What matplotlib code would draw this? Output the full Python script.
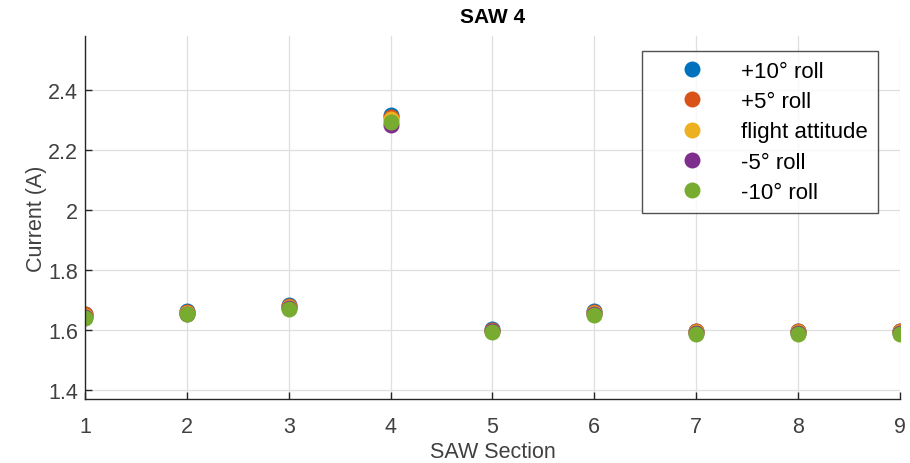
import numpy as np
import matplotlib
matplotlib.use("Agg")
import matplotlib.pyplot as plt

plt.rcParams['font.family'] = ['Liberation Sans', 'DejaVu Sans']

# SAW section numbers and measured current per roll case
sections = [1, 2, 3, 4, 5, 6, 7, 8, 9]
roll_p10 = [1.655, 1.663, 1.682, 2.318, 1.603, 1.662, 1.598, 1.598, 1.598]
roll_p5 = [1.652, 1.661, 1.679, 2.310, 1.601, 1.660, 1.596, 1.596, 1.596]
flight_att = [1.648, 1.658, 1.676, 2.302, 1.598, 1.656, 1.592, 1.592, 1.592]
roll_m5 = [1.645, 1.655, 1.673, 2.285, 1.596, 1.653, 1.590, 1.590, 1.590]
roll_m10 = [1.641, 1.652, 1.670, 2.294, 1.593, 1.650, 1.587, 1.587, 1.587]

labels = ['+10° roll', '+5° roll', 'flight attitude', '-5° roll', '-10° roll']
colours = ['#0072BD', '#D95319', '#EDB120', '#7E2F8E', '#77AC30']
series = [roll_p10, roll_p5, flight_att, roll_m5, roll_m10]

fig = plt.figure(figsize=(9.1, 4.64), dpi=100)
ax = fig.add_axes([0.0934, 0.138, 0.8956, 0.782])

for vals, lab, col in zip(series, labels, colours):
    ax.plot(sections, vals, 'o', color=col, markersize=11.5, label=lab,
            markeredgewidth=0)

ax.set_xlim(1, 9)
ax.set_ylim(1.37, 2.58)
ax.set_xticks(sections)
ax.set_yticks([1.4, 1.6, 1.8, 2.0, 2.2, 2.4])
ax.set_yticklabels(['1.4', '1.6', '1.8', '2', '2.2', '2.4'])

ax.grid(True, color='#DFDFDF', linewidth=0.9)
ax.set_axisbelow(True)
for side in ['top', 'right']:
    ax.spines[side].set_visible(False)
for side in ['left', 'bottom']:
    ax.spines[side].set_color('#262626')
    ax.spines[side].set_linewidth(1.0)
ax.tick_params(direction='in', length=5, width=1.0, colors='#262626',
               labelsize=15.5, labelcolor='#404040')
ax.tick_params(axis='x', pad=12)
ax.tick_params(axis='y', pad=5)

ax.set_xlabel('SAW Section', fontsize=15.5, color='#404040', labelpad=3)
ax.set_ylabel('Current (A)', fontsize=15.5, color='#404040', labelpad=1)
ax.set_title('SAW 4', fontsize=15, fontweight='bold', color='#000000', pad=10)

leg = ax.legend(loc='upper right', bbox_to_anchor=(0.9725, 0.96), fontsize=16,
                frameon=True, fancybox=False, edgecolor='#262626',
                borderpad=0.45, labelspacing=0.42, handletextpad=0.4,
                borderaxespad=0, handlelength=3.6)
leg.get_frame().set_linewidth(1.0)
for t in leg.get_texts():
    t.set_color('#000000')

fig.savefig('out.png', dpi=100)
